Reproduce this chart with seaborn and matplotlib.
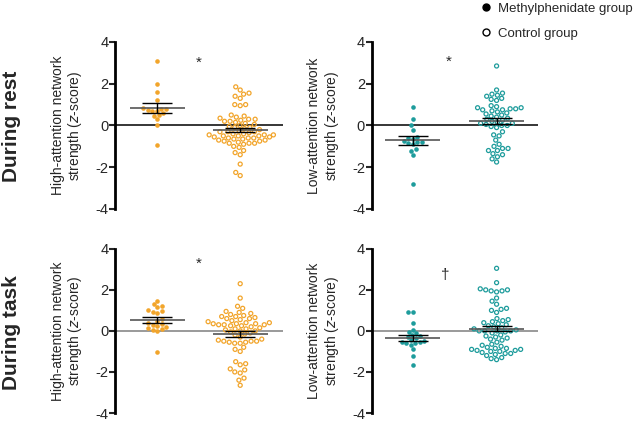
"""
Network strength by group, during rest and task (swarm + mean/SEM).
"""

import numpy as np
import pandas as pd
import matplotlib
matplotlib.use("Agg")
import matplotlib.pyplot as plt
from matplotlib.lines import Line2D
import seaborn as sns

sns.set_style("white")
plt.rcParams['font.family'] = ['Liberation Sans', 'DejaVu Sans']

ORANGE = "#F2A52B"
TEAL = "#1E9C9C"
GROUPS = ["Methylphenidate", "Control"]

# z-scores
rest_high_mph = [3.1, 2.0, 1.6, 1.2, 0.85, 0.8, 0.8, 0.75, 0.7, 0.7, 0.6, 0.5,
                 0.45, 0.3, 0.0, -0.95]
rest_high_ctrl = [1.85, 1.7, 1.55, 1.5, 1.4, 1.3, 1.0, 1.0, 0.95, 0.5, 0.45,
                  0.4, 0.35, 0.3, 0.3, 0.25, 0.2, 0.2, 0.15, 0.1, 0.05, 0.0,
                  -0.05, -0.1, -0.1, -0.15, -0.2, -0.25, -0.3, -0.3, -0.3,
                  -0.35, -0.4, -0.4, -0.45, -0.45, -0.45, -0.5, -0.5, -0.5,
                  -0.55, -0.55, -0.6, -0.6, -0.6, -0.65, -0.65, -0.7, -0.7,
                  -0.75, -0.75, -0.8, -0.85, -0.85, -0.85, -0.9, -1.0, -1.05,
                  -1.2, -1.3, -1.4, -1.85, -2.25, -2.4]
rest_low_mph = [0.9, 0.3, 0.0, -0.2, -0.55, -0.6, -0.65, -0.75, -0.8, -0.8,
                -0.85, -0.9, -1.15, -1.2, -1.4, -2.8]
rest_low_ctrl = [2.85, 1.7, 1.55, 1.5, 1.45, 1.4, 1.3, 1.25, 1.2, 0.95, 0.9,
                 0.85, 0.85, 0.8, 0.8, 0.75, 0.75, 0.7, 0.65, 0.6, 0.55, 0.5,
                 0.45, 0.4, 0.35, 0.3, 0.25, 0.2, 0.15, 0.1, 0.1, 0.05, 0.0,
                 0.0, -0.05, -0.1, -0.3, -0.45, -0.5, -0.7, -0.9, -1.0, -1.1,
                 -1.1, -1.2, -1.2, -1.35, -1.4, -1.5, -1.6, -1.75]
task_high_mph = [1.45, 1.3, 1.2, 1.15, 1.0, 0.95, 0.9, 0.85, 0.6, 0.5, 0.4,
                 0.35, 0.3, 0.25, 0.2, 0.15, 0.1, 0.05, 0.0, -1.05]
task_high_ctrl = [2.3, 1.6, 1.2, 1.1, 0.95, 0.9, 0.85, 0.8, 0.75, 0.7, 0.7,
                  0.65, 0.6, 0.6, 0.55, 0.5, 0.45, 0.4, 0.4, 0.35, 0.35, 0.35,
                  0.3, 0.3, 0.3, 0.25, 0.25, 0.2, 0.15, 0.1, 0.1, 0.05, 0.0,
                  0.0, -0.05, -0.1, -0.15, -0.2, -0.3, -0.4, -0.45, -0.5,
                  -0.5, -0.5, -0.55, -0.55, -0.6, -0.6, -0.8, -0.9, -1.0,
                  -1.5, -1.6, -1.65, -1.85, -1.9, -2.0, -2.05, -2.3, -2.4,
                  -2.65]
task_low_mph = [0.9, 0.9, 0.4, 0.05, -0.05, -0.1, -0.2, -0.25, -0.3, -0.35,
                -0.45, -0.5, -0.55, -0.55, -0.6, -0.6, -0.7, -0.9, -1.2,
                -1.65]
task_low_ctrl = [3.05, 2.35, 2.05, 2.0, 2.0, 1.95, 1.9, 1.95, 1.6, 1.45, 1.3,
                 1.1, 1.05, 1.0, 0.9, 0.6, 0.55, 0.5, 0.45, 0.4, 0.35, 0.3,
                 0.25, 0.2, 0.15, 0.1, 0.05, 0.0, 0.0, 0.0, 0.0, -0.05, -0.1,
                 -0.2, -0.25, -0.3, -0.35, -0.4, -0.45, -0.55, -0.65, -0.7,
                 -0.75, -0.8, -0.85, -0.85, -0.9, -0.9, -0.95, -0.95, -1.0,
                 -1.0, -1.05, -1.1, -1.1, -1.15, -1.2, -1.3, -1.35, -1.4]

row_labels = ["During rest", "During task"]
ylabels = ["High-attention network\nstrength ($\\it{z}$-score)",
           "Low-attention network\nstrength ($\\it{z}$-score)"]
sig_marks = [["*", "*"], ["*", "\u2020"]]
sig_pos = [[(0.5, 3.0), (0.43, 3.05)], [(0.5, 3.25), (0.39, 2.7)]]

panels = [
    [(rest_high_mph, rest_high_ctrl, ORANGE), (rest_low_mph, rest_low_ctrl, TEAL)],
    [(task_high_mph, task_high_ctrl, ORANGE), (task_low_mph, task_low_ctrl, TEAL)],
]

fig = plt.figure(figsize=(6.4, 4.21), dpi=100)

ax_rects = [
    [[0.180, 0.5036, 0.2625, 0.3967], [0.581, 0.5036, 0.259, 0.3967]],
    [[0.180, 0.019, 0.2625, 0.39], [0.581, 0.019, 0.259, 0.39]],
]
xlims = [(-0.506, 1.518), (-0.49, 1.49)]
zero_colors = ["black", "#7f7f7f"]


def draw_panel(ax, mph, ctrl, color, zero_color):
    df = pd.DataFrame({
        "group": [GROUPS[0]] * len(mph) + [GROUPS[1]] * len(ctrl),
        "value": list(mph) + list(ctrl),
    })
    ax.axhline(0, color=zero_color, lw=1.1, zorder=1)

    sns.swarmplot(data=df[df.group == GROUPS[0]], x="group", y="value",
                  order=GROUPS, color=color, size=3.3, linewidth=0, ax=ax,
                  zorder=2)
    sns.swarmplot(data=df[df.group == GROUPS[1]], x="group", y="value",
                  order=GROUPS, color=color, size=2.9, linewidth=0.9, ax=ax,
                  zorder=2)
    hollow = ax.collections[-1]
    hollow.set_facecolor("none")
    hollow.set_edgecolor(color)

    # mean and SEM
    stats = df.groupby("group")["value"].agg(["mean", "sem"]).reindex(GROUPS)
    xs = np.arange(len(GROUPS))
    ax.hlines(stats["mean"], xs - 0.33, xs + 0.33, color="#555555", lw=1.2,
              zorder=3)
    ax.errorbar(xs, stats["mean"], yerr=stats["sem"], fmt="none",
                ecolor="black", elinewidth=1, capsize=10.5, capthick=1,
                zorder=4)


for r in range(2):
    for c in range(2):
        ax = fig.add_axes(ax_rects[r][c])
        mph, ctrl, color = panels[r][c]
        draw_panel(ax, mph, ctrl, color, zero_colors[r])
        ax.set_xlim(*xlims[c])
        ax.set_ylim(-4, 4)
        ax.set_yticks([-4, -2, 0, 2, 4])
        ax.set_yticklabels(["-4", "-2", "0", "2", "4"])
        ax.set_xticks([])
        ax.set_xlabel("")
        ax.set_ylabel(ylabels[c], fontsize=10, labelpad=8, linespacing=1.1)
        for side in ["top", "right", "bottom"]:
            ax.spines[side].set_visible(False)
        ax.spines["left"].set_linewidth(2)
        ax.spines["left"].set_color("black")
        ax.tick_params(axis="y", direction="out", length=4, width=1.5,
                       labelsize=10.5, pad=1, left=True)
        ax.patch.set_alpha(0)
        sx, sy = sig_pos[r][c]
        ax.text(sx, sy, sig_marks[r][c], fontsize=11, ha="center",
                va="center")

fig.text(0.018, 0.70, row_labels[0], rotation=90, fontsize=15,
         fontweight="bold", ha="center", va="center")
fig.text(0.018, 0.21, row_labels[1], rotation=90, fontsize=15,
         fontweight="bold", ha="center", va="center")

handles = [
    Line2D([], [], ls="none", marker="o", color="black", markersize=5),
    Line2D([], [], ls="none", marker="o", markerfacecolor="none",
           markeredgecolor="black", markeredgewidth=1, markersize=5),
]
fig.legend(handles, ["Methylphenidate group", "Control group"],
           loc="upper left", bbox_to_anchor=(0.733, 1.022), frameon=False,
           fontsize=9.5, handlelength=0.8, handletextpad=0.5,
           labelspacing=0.95)

fig.savefig("out.png", dpi=100)
